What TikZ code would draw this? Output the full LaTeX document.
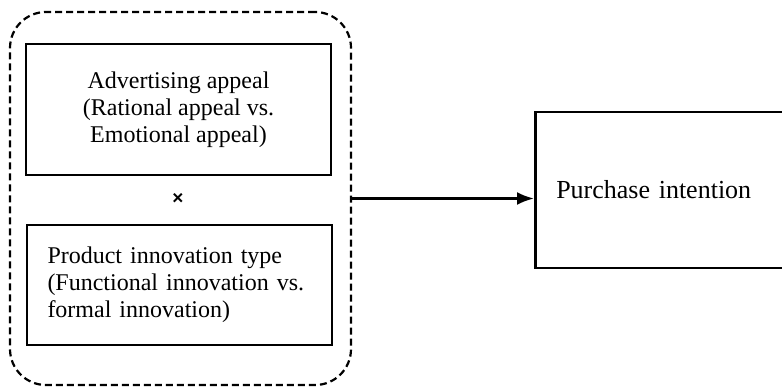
\documentclass[tikz,border=0pt]{standalone}
\usepackage{fontspec}
\setmainfont{Liberation Serif}
\newfontfamily\crossfont{Liberation Sans}
\usepackage{tikz}
\usetikzlibrary{arrows.meta,positioning}

\begin{document}
\begin{tikzpicture}[x=1pt,y=-1pt,
			box/.style={shape=rectangle,draw,line width=2.5pt,inner sep=0pt},
			group/.style={shape=rectangle,draw,dash pattern=on 7pt off 4pt,line width=2.2pt,rounded corners=36pt,minimum width=341pt,minimum height=373pt},
			txt/.style={font=\fontsize{24}{27}\selectfont},
			>={Latex[length=17pt,width=13pt]}, line width=2.5pt]
			\useasboundingbox (0,0) rectangle (782,388);
			\node[group] (grp) at (180.5,198.5) {};
			\node[box,txt,minimum width=305pt,minimum height=131pt,align=center] (appeal) at (178.5,109.5)
				{Advertising appeal\\(Rational appeal vs.\\Emotional appeal)};
			\node[font=\crossfont\bfseries\fontsize{19}{19}\selectfont] (times) at (178,199) {×};
			\node[box,txt,minimum width=305pt,minimum height=120pt,text width=264pt,align=left] (innov) at (179.5,285)
				{Product innovation type\\\makebox[264pt][s]{(Functional innovation vs.}\\formal innovation)};
			\node[box,font=\fontsize{26}{27}\selectfont,anchor=west,minimum height=156pt,text width=220pt,inner xsep=21pt,align=left] (intent) at (534,190)
				{Purchase intention};
			\draw[->] (grp.east) -- (intent.west |- grp.east);
		\end{tikzpicture}
\end{document}
